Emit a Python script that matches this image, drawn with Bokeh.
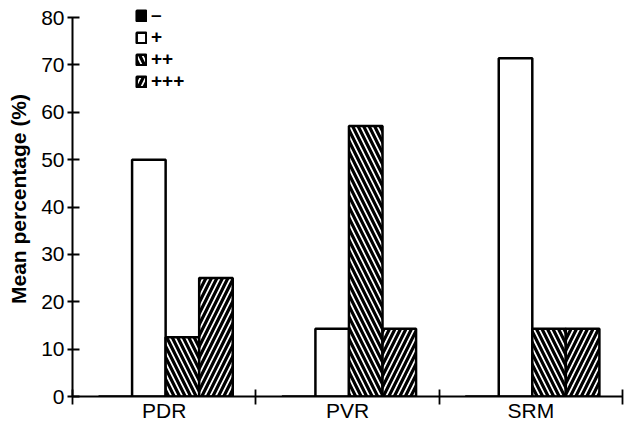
from bokeh.plotting import figure
from bokeh.models import ColumnDataSource, FixedTicker, Legend, LegendItem, Range1d
from bokeh.transform import dodge
from bokeh.embed import file_html
from bokeh.resources import INLINE

categories = ["PDR", "PVR", "SRM"]
series_labels = ["\u2013", "+", "++", "+++"]
minus_vals = [0, 0, 0]
plus_vals = [50, 14.3, 71.4]
plus2_vals = [12.5, 57.1, 14.3]
plus3_vals = [25, 14.3, 14.3]
y_ticks = [0, 10, 20, 30, 40, 50, 60, 70, 80]

centers = [i + 0.5 for i in range(len(categories))]
src = ColumnDataSource(dict(x=centers, m=minus_vals, p1=plus_vals, p2=plus2_vals, p3=plus3_vals))

FONT = "Liberation Sans"
p = figure(width=624, height=424, output_backend="svg", toolbar_location=None,
           x_range=Range1d(0, 3), y_range=Range1d(0, 83.4),
           min_border_left=72, min_border_top=1, min_border_right=2, min_border_bottom=0)
p.xgrid.visible = False
p.ygrid.visible = False
p.outline_line_color = None

w = 0.183
styles = [
    ("m", dict(fill_color="black")),
    ("p1", dict(fill_color="white")),
    ("p2", dict(fill_color="white", hatch_pattern="\\", hatch_color="black", hatch_weight=3.2, hatch_scale=11)),
    ("p3", dict(fill_color="white", hatch_pattern="/", hatch_color="black", hatch_weight=3.2, hatch_scale=11)),
]
renderers = []
for k, (col, st) in enumerate(styles):
    r = p.vbar(x=dodge("x", (k - 1.5) * w + 0.008, range=p.x_range), top=col, width=w, source=src,
               line_color="black", line_width=2.5, **st)
    renderers.append(r)

items = [LegendItem(label=lab, renderers=[r]) for lab, r in zip(series_labels, renderers)]
legend = Legend(items=items, location=(63, 304), glyph_width=12, glyph_height=13,
                label_height=20, spacing=0, label_standoff=4, padding=0, margin=0,
                border_line_alpha=0, background_fill_alpha=0,
                label_text_font=FONT, label_text_font_size="19px", label_text_font_style="bold",
                label_text_color="black", label_text_baseline="middle")
p.add_layout(legend, "center")

# y axis
ya = p.yaxis[0]
ya.bounds = (0, 80)
ya.ticker = FixedTicker(ticks=y_ticks, minor_ticks=[])
ya.axis_line_width = 2
ya.major_tick_line_width = 1.8
ya.major_tick_in = 7
ya.major_tick_out = 5
ya.minor_tick_line_color = None
ya.major_label_text_font = FONT
ya.major_label_text_font_size = "21px"
ya.major_label_text_color = "black"
ya.major_label_standoff = 3
ya.axis_label = "Mean percentage (%)"
ya.axis_label_text_font = FONT
ya.axis_label_text_font_size = "21px"
ya.axis_label_text_font_style = "bold"
ya.axis_label_text_color = "black"
ya.axis_label_standoff = 8

# x axis
xa = p.xaxis[0]
xa.axis_label = None
xa.ticker = FixedTicker(ticks=centers, minor_ticks=[0, 1, 2, 3])
xa.major_label_overrides = {c: lab for c, lab in zip(centers, categories)}
xa.major_tick_line_color = None
xa.major_tick_in = 0
xa.major_tick_out = 0
xa.minor_tick_in = 7
xa.minor_tick_out = 8
xa.minor_tick_line_width = 1.8
xa.minor_tick_line_color = "black"
xa.axis_line_width = 2
xa.major_label_text_font = FONT
xa.major_label_text_font_size = "21px"
xa.major_label_text_color = "black"
xa.major_label_standoff = -6

open("out.html", "w").write(file_html(p, INLINE))
